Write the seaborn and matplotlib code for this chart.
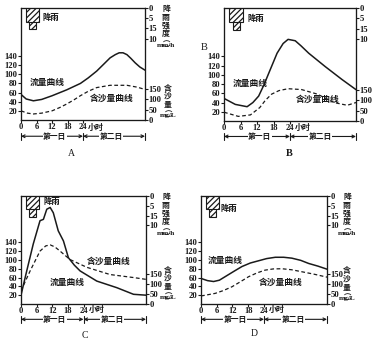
import matplotlib
matplotlib.use("Agg")
import matplotlib.pyplot as plt
import seaborn as sns
import pandas as pd

# ---------------- data ----------------
# Panel A
a_flow_h = [0, 2, 4.8, 8, 12, 17.7, 23, 26, 29.3, 32, 34.5, 36.5, 38, 39.5, 41, 42.5, 44.2, 46, 48]
a_flow_v = [56, 46, 42, 45, 53, 66, 80, 92, 107, 122, 136, 143, 147, 147, 143, 135, 125, 116, 109]
a_sed_h = [0, 2.5, 4.8, 8, 12, 15, 17.7, 20.5, 23, 26, 29.3, 34.5, 41, 45, 48]
a_sed_v = [44, 33, 29, 33, 44, 60, 77, 97, 117, 138, 156, 167, 167, 158, 147]

# Panel B
b_flow_h = [0, 4.1, 8.4, 10.5, 12.6, 14.5, 16.3, 19.3, 21.5, 23.3, 25.9, 28, 30.8, 36.8, 42.9, 48]
b_flow_v = [49, 36, 31, 40, 54, 78, 104, 147, 168, 177, 174, 163, 147, 118, 90, 68]
b_sed_h = [0, 5.2, 9.6, 13, 15, 17.3, 20, 23.3, 28.2, 34, 40, 44.8, 48]
b_sed_v = [42, 22, 29, 64, 98, 128, 145, 154, 150, 128, 88, 75, 88]

# Panel C
c_flow_h = [0, 2.2, 4.7, 7.3, 8.6, 9.9, 11.2, 12.4, 14.3, 16.3, 18.2, 20.5, 22.7, 29.1, 36.8, 43.2, 48]
c_flow_v = [20, 75, 136, 189, 192, 215, 219, 207, 166, 143, 105, 88, 75, 52, 37, 22, 20]
c_sed_h = [0, 3.5, 7.3, 9.5, 11.2, 13, 15, 18.8, 25.3, 34.2, 43.2, 48]
c_sed_v = [66, 165, 264, 290, 295, 285, 264, 222, 183, 147, 132, 123]

# Panel D
d_flow_h = [0, 2.5, 4.8, 7, 9.2, 12.5, 15.6, 18.8, 21.9, 25, 28.3, 31.5, 34.6, 38, 41, 44.5, 48]
d_flow_v = [58, 53, 51, 54, 62, 74, 85, 93, 98, 103, 106, 106, 104, 99, 92, 86, 79]
d_sed_h = [0, 5.4, 8.5, 11.8, 15, 18.1, 21.3, 24.4, 27.5, 30.8, 34.5, 38.4, 43, 48]
d_sed_v = [40, 53, 67, 86, 111, 136, 155, 169, 175, 176, 171, 161, 149, 134]

# rain blocks: (start hour, end hour, intensity depth)
rain_start = [3.1, 1.8]
rain_end = [5.8, 6.8]
rain_depth = [10.5, 6.8]

hour_ticks = [0, 6, 12, 18, 24]
flow_ticks = [20, 40, 60, 80, 100, 120, 140]
sed_ticks = [0, 50, 100, 150]
rain_ticks = [0, 5, 10, 15]
rain_tick_labels = ["0", "5", "15", "10"]
day_labels = ["第一日", "第二日"]

INK = "#1a1a1a"
W, H = 383, 342

sns.set_theme(style="white")
plt.rcParams["font.family"] = ["Noto Sans CJK SC", "DejaVu Sans"]
plt.rcParams["hatch.linewidth"] = 0.9
plt.rcParams["hatch.color"] = INK

fig = plt.figure(figsize=(W / 100, H / 100), dpi=100)
fig.patch.set_facecolor("white")

CJK = ["Noto Sans CJK SC", "DejaVu Sans"]
SERIF = "Liberation Serif"
UNIT_FAM = ["Liberation Serif", "Noto Sans CJK SC"]
TICK_FS = 6.2


def rect(l, r, t, b):
    return [l / W, 1 - b / H, (r - l) / W, (b - t) / H]


def ptext(x, y, s, **kw):
    fig.text(x / W, 1 - y / H, s, **kw)


def style_ticks(axis_obj):
    for lbl in axis_obj.get_xticklabels() + axis_obj.get_yticklabels():
        lbl.set_fontfamily(SERIF)
        lbl.set_fontweight("bold")


def panel(rc, fh, fv, sh, sv, rain_txt, flow_lbl, sed_lbl, bracket_y, hour_y):
    ax = fig.add_axes(rc)
    sns.lineplot(data=pd.DataFrame({"h": fh, "v": fv}), x="h", y="v", ax=ax,
                 color=INK, lw=1.1)
    ax.set_xlim(0, 48)
    ax.set_ylim(0, 245)
    ax.set_xlabel("")
    ax.set_ylabel("")
    ax.set_xticks(hour_ticks)
    ax.set_yticks(flow_ticks)
    ax.tick_params(direction="out", length=2, width=0.8, labelsize=TICK_FS, pad=0.5,
                   colors=INK, bottom=True, left=True)

    ax_s = ax.twinx()
    sns.lineplot(data=pd.DataFrame({"h": sh, "v": sv}), x="h", y="v", ax=ax_s,
                 color=INK, lw=0.9, linestyle=(0, (3, 2)))
    ax_s.set_ylim(0, 539)
    ax_s.set_ylabel("")
    ax_s.set_yticks(sed_ticks)
    ax_s.tick_params(direction="out", length=2, width=0.8, labelsize=TICK_FS, pad=0.6,
                     colors=INK, right=True)

    ax_r = ax.twinx()
    ax_r.bar([(s + e) / 2 for s, e in zip(rain_start, rain_end)], rain_depth,
             width=[e - s for s, e in zip(rain_start, rain_end)], bottom=0,
             facecolor="white", edgecolor=INK, hatch="//////", lw=0.8)
    ax_r.set_ylim(55, 0)
    ax_r.set_yticks(rain_ticks)
    ax_r.set_yticklabels(rain_tick_labels)
    ax_r.tick_params(direction="out", length=2, width=0.8, labelsize=TICK_FS, pad=0.6,
                     colors=INK, right=True)
    ax_r.text(rain_txt[0], rain_txt[1], "降雨", fontsize=6, fontweight="bold",
              family=CJK, ha="center", va="center", color=INK)

    for a in (ax, ax_s, ax_r):
        for sp in a.spines.values():
            sp.set_color(INK)
            sp.set_linewidth(0.8)
        style_ticks(a)

    ax.text(flow_lbl[0], flow_lbl[1], "流量曲线", fontsize=6.3, fontweight="bold",
            family=CJK, ha="center", va="center", color=INK)
    ax.text(sed_lbl[0], sed_lbl[1], "含沙量曲线", fontsize=6.3, fontweight="bold",
            family=CJK, ha="center", va="center", color=INK)

    trans = ax.get_xaxis_transform()
    ax.text(25.9, hour_y, "小时", transform=trans, fontsize=5.8, fontweight="bold",
            family=CJK, ha="left", va="center", color=INK, clip_on=False)

    # day bracket
    for x0, x1 in ((0, 24), (24, 48)):
        ax.annotate("", xy=(x0, bracket_y), xytext=(x1, bracket_y),
                    xycoords=trans, textcoords=trans,
                    arrowprops=dict(arrowstyle="<->", color=INK, lw=0.8,
                                    mutation_scale=5, shrinkA=0, shrinkB=0))
    for xb in (0, 24, 48):
        ax.plot([xb, xb], [bracket_y - 0.03, bracket_y + 0.03], transform=trans,
                color=INK, lw=0.8, clip_on=False)
    for xc, lab in zip((13, 35), day_labels):
        ax.text(xc, bracket_y, lab, transform=trans, fontsize=5.6, fontweight="bold",
                family=CJK, ha="center", va="center", color=INK,
                bbox=dict(facecolor="white", edgecolor="none", pad=0.2))
    return ax


def side_labels(x_top, y_top, x_bot, y_bot):
    ptext(x_top, y_top, "降\n雨\n强\n度", fontsize=5.7, fontweight="bold", family=CJK,
          ha="center", va="top", color=INK, linespacing=0.88)
    ptext(x_top + 0.5, y_top + 34, "︵\nmm/h\n︶", fontsize=5.3, fontweight="bold",
          family=UNIT_FAM, ha="center", va="top", color=INK, linespacing=0.8,
          multialignment="center")
    ptext(x_bot, y_bot, "含\n沙\n量", fontsize=5.7, fontweight="bold", family=CJK,
          ha="center", va="top", color=INK, linespacing=0.88)
    ptext(x_bot + 0.5, y_bot + 25.5, "︵\nmg/L\n︶", fontsize=5.3, fontweight="bold",
          family=UNIT_FAM, ha="center", va="top", color=INK, linespacing=0.8,
          multialignment="center")


# Panel A
panel(rect(21, 145, 8, 120), a_flow_h, a_flow_v, a_sed_h, a_sed_v,
      rain_txt=(11.6, 4.5), flow_lbl=(10, 83), sed_lbl=(35, 48),
      bracket_y=-0.145, hour_y=-0.063)
side_labels(166, 4.5, 168, 83.5)
ptext(71, 153, "A", fontsize=7, family=SERIF, ha="center", va="center", color=INK)

# Panel B
panel(rect(224, 356, 8, 121), b_flow_h, b_flow_v, b_sed_h, b_sed_v,
      rain_txt=(11.5, 5), flow_lbl=(9.7, 82), sed_lbl=(34.2, 46),
      bracket_y=-0.137, hour_y=-0.06)
ptext(289, 153, "B", fontsize=7.5, fontweight="bold", family=SERIF, ha="center",
      va="center", color=INK)
ptext(204, 47, "B", fontsize=7.5, family=SERIF, ha="center", va="center", color=INK)

# Panel C
panel(rect(21, 146, 196, 304), c_flow_h, c_flow_v, c_sed_h, c_sed_v,
      rain_txt=(12, 3), flow_lbl=(17.9, 48), sed_lbl=(33.5, 96),
      bracket_y=-0.142, hour_y=-0.05)
side_labels(166, 192.5, 168, 265.5)
ptext(85, 335, "C", fontsize=7, family=SERIF, ha="center", va="center", color=INK)

# Panel D
panel(rect(201, 327, 196, 304), d_flow_h, d_flow_v, d_sed_h, d_sed_v,
      rain_txt=(10.5, 6.5), flow_lbl=(9.1, 98), sed_lbl=(30.4, 49),
      bracket_y=-0.142, hour_y=-0.05)
side_labels(347, 192.5, 347, 266.5)
ptext(254, 334, "D", fontsize=7, family=SERIF, ha="center", va="center", color=INK)

fig.savefig("out.png", dpi=100, facecolor="white")
